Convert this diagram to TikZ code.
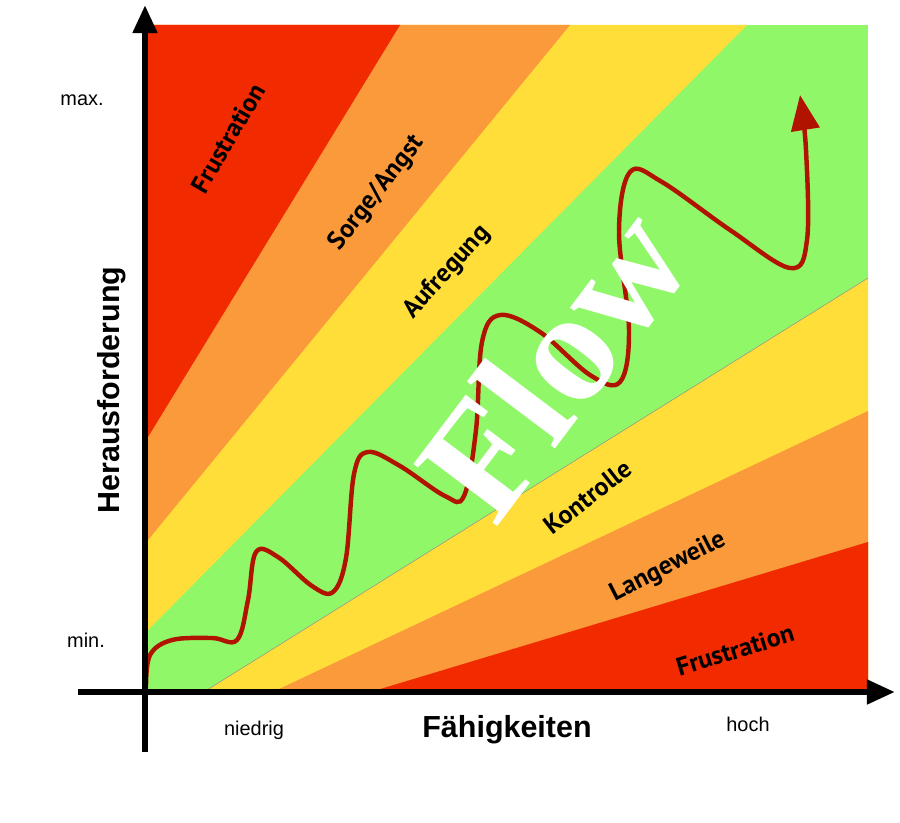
\documentclass[tikz,border=0pt]{standalone}
\usepackage{fontspec}
\setmainfont{Liberation Sans}
\newfontfamily\bandfont{PT Sans}
\newfontfamily\flowfont{Liberation Serif}
\usetikzlibrary{arrows.meta}
\definecolor{flowred}{HTML}{F22A00}
\definecolor{flowora}{HTML}{FA9A3A}
\definecolor{flowyel}{HTML}{FFDE3A}
\definecolor{flowgrn}{HTML}{90F868}
\definecolor{wave}{HTML}{B01400}

\begin{document}
\begin{tikzpicture}[x=0.03cm,y=-0.03cm,
  band label/.style={font=\bandfont\bfseries\fontsize{22}{22}\selectfont},
  axis label/.style={font=\bfseries\fontsize{26}{26}\selectfont},
  tick label/.style={font=\fontsize{17}{17}\selectfont},
  axis/.style={line width=5.5pt,-{Triangle[length=24pt,width=20pt]}}]
  \useasboundingbox (0,0) rectangle (900,823);

  % bands
  \fill[flowgrn] (148,25) rectangle (868,690);
  \fill[flowyel] (148,25) -- (747,25) -- (148,630) -- cycle;
  \fill[flowora] (148,25) -- (570,25) -- (148,540) -- cycle;
  \fill[flowred] (148,25) -- (400,25) -- (148,437) -- cycle;
  \fill[flowyel] (207,690) -- (868,278) -- (868,690) -- cycle;
  \fill[flowora] (277,690) -- (868,411) -- (868,690) -- cycle;
  \fill[flowred] (377,690) -- (868,542) -- (868,690) -- cycle;
  \draw[black!45,thin] (207,690) -- (868,278);

  % wave
  \draw[wave,line width=3.8pt,-{Triangle[length=30pt,width=24pt]}]
    plot[smooth,tension=0.6] coordinates {(146,688) (150,655) (172,640) (212,638) (237,640)
      (248,600) (256,552) (278,557) (312,586) (333,592) (346,558) (354,474) (368,452)
      (400,466) (445,496) (464,496) (476,430) (482,342) (500,315) (540,332) (590,375)
      (620,382) (629,330) (619,232) (630,172) (662,182) (730,230) (790,268) (807,240)
      (806,150) (800,95)};

  % flow text
  \node[white,rotate=53,font=\flowfont\bfseries\fontsize{80}{80}\selectfont,scale=1.7]
    (flow) at (553,362) {Flow};

  % band labels
  \node[band label,rotate=60] (frusttop) at (228,138) {Frustration};
  \node[band label,rotate=52] (sorge) at (377,193) {Sorge/Angst};
  \node[band label,rotate=48] (aufr) at (447,272) {Aufregung};
  \node[band label,rotate=38] (kontr) at (588,497) {Kontrolle};
  \node[band label,rotate=27] (lange) at (668,567) {Langeweile};
  \node[band label,rotate=17] (frustbot) at (735,650) {Frustration};

  % axes
  \coordinate (ybot) at (145,752);
  \coordinate (ytop) at (145,5);
  \coordinate (xleft) at (78,692);
  \coordinate (xright) at (895,692);
  \draw[axis] (ybot) -- (ytop);
  \draw[axis] (xleft) -- (xright);

  \node[axis label,rotate=90] (yname) at (112,390) {Herausforderung};
  \node[axis label] (xname) at (507,730) {Fähigkeiten};
  \node[tick label] (ymax) at (82,100) {max.};
  \node[tick label] (ymin) at (86,640) {min.};
  \node[tick label] (xlow) at (254,730) {niedrig};
  \node[tick label] (xhigh) at (748,724) {hoch};
\end{tikzpicture}
\end{document}
